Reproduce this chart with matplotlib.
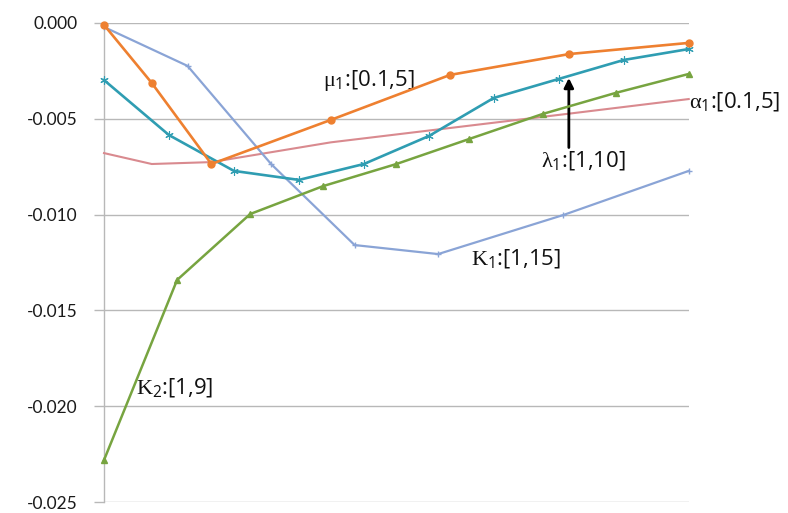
import matplotlib.pyplot as plt

# parameter grids for each sweep and the resulting change
mu1_x = [0.1, 0.5, 1, 2, 3, 4, 5]
mu1_y = [-0.0001, -0.00313, -0.00736, -0.00506, -0.00271, -0.00162, -0.00104]

alpha1_x = [0.1, 0.5, 1, 2, 3, 4, 5]
alpha1_y = [-0.00679, -0.00736, -0.00726, -0.00623, -0.00548, -0.00473, -0.00397]

lambda1_x = [1, 2, 3, 4, 5, 6, 7, 8, 9, 10]
lambda1_y = [-0.00298, -0.00585, -0.00772, -0.00819, -0.00736,
             -0.0059, -0.00391, -0.00292, -0.00193, -0.00136]

k1_x = [1, 3, 5, 7, 9, 12, 15]
k1_y = [-0.00021, -0.00224, -0.00736, -0.01159, -0.01206, -0.01002, -0.00772]

k2_x = [1, 2, 3, 4, 5, 6, 7, 8, 9]
k2_y = [-0.02281, -0.01341, -0.00997, -0.00851, -0.00736,
        -0.00605, -0.00475, -0.00365, -0.00266]

y_ticks = [0.0, -0.005, -0.010, -0.015, -0.020, -0.025]

# upright serif symbols, sans subscripts
plt.rcParams['mathtext.fontset'] = 'custom'
plt.rcParams['mathtext.rm'] = 'Liberation Serif'
plt.rcParams['mathtext.it'] = 'Liberation Serif'
plt.rcParams['mathtext.sf'] = 'Open Sans'


def scaled(xs):
    # every sweep spans the full width regardless of its own range
    lo, hi = xs[0], xs[-1]
    return [(v - lo) / (hi - lo) for v in xs]


fig = plt.figure(figsize=(7.88, 5.13), dpi=100)
ax = fig.add_axes([0.132, 0.0214, 0.742, 0.9338])

ax.plot(scaled(alpha1_x), alpha1_y, color='#d98a8f', lw=1.5, clip_on=False, zorder=3)
ax.plot(scaled(k1_x), k1_y, color='#8aa4d6', lw=1.6, marker='+', ms=5, mew=1,
        clip_on=False, zorder=3)
ax.plot(scaled(k2_x), k2_y, color='#77a440', lw=1.8, marker='^', ms=5,
        clip_on=False, zorder=4)
ax.plot(scaled(lambda1_x), lambda1_y, color='#2f9db2', lw=1.9, marker=(6, 2, 0), ms=6,
        mew=0.8, clip_on=False, zorder=5)
ax.plot(scaled(mu1_x), mu1_y, color='#ee8030', lw=1.9, marker='o', ms=5,
        clip_on=False, zorder=6)

ax.set_xlim(0, 1)
ax.set_ylim(-0.025, 0.0)
ax.set_yticks(y_ticks)
ax.set_yticklabels([f"{v:.3f}" for v in y_ticks])
ax.set_xticks([])
ax.grid(axis='y', color='#b8b8b8', lw=1)
ax.set_axisbelow(True)
for side in ['top', 'right', 'bottom']:
    ax.spines[side].set_visible(False)
ax.spines['left'].set_color('#b8b8b8')
ax.spines['left'].set_linewidth(1)
ax.tick_params(axis='y', length=7, width=1, color='#b8b8b8', pad=12,
               labelsize=12.5, labelcolor='#1a1a1a')
for lab in ax.get_yticklabels():
    lab.set_fontfamily('Lato')

label_font = dict(fontsize=16, family='Open Sans', color='#111111')
ax.text(0.375, -0.0030, r'$\mu_{\mathsf{1}}$:[0.1,5]', ha='left', va='center', **label_font)
ax.text(1.0, -0.0041, r'$\alpha_{\mathsf{1}}$:[0.1,5]', ha='left', va='center',
        clip_on=False, **label_font)
ax.text(0.82, -0.0072, r'$\lambda_{\mathsf{1}}$:[1,10]', ha='center', va='center',
        **label_font)
ax.text(0.628, -0.0123, r'$\mathrm{K}_{\mathsf{1}}$:[1,15]', ha='left', va='center',
        **label_font)
ax.text(0.055, -0.0190, r'$\mathrm{K}_{\mathsf{2}}$:[1,9]', ha='left', va='center',
        **label_font)

ax.annotate('', xy=(0.795, -0.00287), xytext=(0.795, -0.0065),
            arrowprops=dict(arrowstyle='-|>', color='black', lw=2,
                            mutation_scale=14, shrinkA=0, shrinkB=0))

fig.savefig('out.png', dpi=100)
